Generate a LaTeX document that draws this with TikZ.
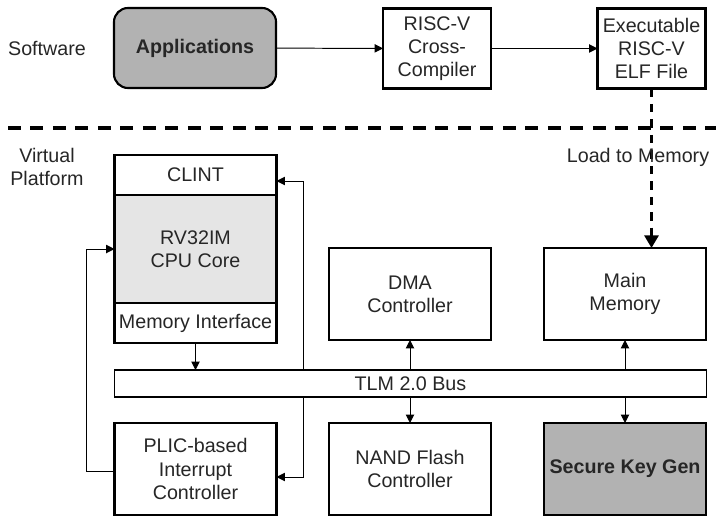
\documentclass[tikz,border=0pt]{standalone}
\usepackage{fontspec}
\setmainfont{Liberation Sans}
\usetikzlibrary{positioning, arrows.meta}

\begin{document}
\begin{tikzpicture}[
  x=0.025cm, y=-0.025cm,
  node distance=0cm,
  every node/.style={align=center, text=black!85, font=\fontsize{14}{16.5}\selectfont},
  box/.style={rectangle, draw=black, line width=1.5pt, fill=white, minimum width=4.05cm, minimum height=2.3cm, inner sep=1pt, outer sep=0pt},
  tall/.style={box, minimum width=2.7cm, minimum height=2cm},
  strip/.style={box, minimum height=1cm},
  dark/.style={fill=black!30, font=\fontsize{14}{16.5}\selectfont\bfseries},
  bus/.style={rectangle, draw=black, line width=0.8pt, fill=white, minimum width=14.775cm, minimum height=0.675cm, inner sep=1pt, outer sep=0pt},
  arr/.style={-{Triangle[length=6pt, width=6pt]}, line width=0.7pt},
  load/.style={-{Triangle[length=9pt, width=10pt]}, line width=2pt, dash pattern=on 6pt off 5pt}
]
\useasboundingbox (0,0) rectangle (716,517);

% Software side
\node (sw) at (47,48) {Software};
\node[box, dark, rounded corners=10pt, minimum height=2cm] (apps) at (195,48) {Applications};
\node[tall] (cc) at (437,48.5) {RISC-V\\Cross-\\Compiler};
\node[tall] (elf) at (651.5,48.5) {Executable\\RISC-V\\ELF File};

% Separator
\draw[line width=2.2pt, dash pattern=on 9pt off 7pt] (8,128) -- (716,128);

% Virtual platform
\node (vp) at (47,167) {Virtual\\Platform};
\node[strip] (clint) at (195.5,175) {CLINT};
\node[box, fill=black!10, minimum height=2.7cm, below=of clint] (cpu) {RV32IM\\CPU Core};
\node[strip, below=of cpu] (memif) {Memory Interface};
\node[box] (dma) at (410,294) {DMA\\Controller};
\node[box] (mem) at (625,294) {Main\\Memory};
\node[bus] (tlm) at (410.5,383.5) {TLM 2.0 Bus};
\node[box] (plic) at (195.5,469) {PLIC-based\\Interrupt\\Controller};
\node[box] (nand) at (410,469) {NAND Flash\\Controller};
\node[box, dark] (skg) at (625,469) {Secure Key Gen};
\coordinate (irq) at (303,383.5);

% Software flow
\draw[arr] (apps) -- (cc);
\draw[arr] (cc) -- (elf);
\draw[load] (elf.south) -- (elf.south |- mem.north);
\node at (638,157) {Load to Memory};

% Bus connections
\draw[arr] (memif.south) -- (memif.south |- tlm.north);
\draw[arr] (dma |- tlm.north) -- (dma.south);
\draw[arr] (mem |- tlm.north) -- (mem.south);
\draw[arr] (nand |- tlm.south) -- (nand.north);
\draw[arr] (skg |- tlm.south) -- (skg.north);

% Interrupt lines
\draw[arr] (irq |- tlm.north) |- ([yshift=-0.15cm]clint.east);
\draw[arr] (irq |- tlm.south) |- ([yshift=-0.2cm]plic.east);
\draw[arr] ([yshift=-0.05cm]plic.west) -- ++(-0.7cm,0) |- (cpu.west);

\end{tikzpicture}
\end{document}
